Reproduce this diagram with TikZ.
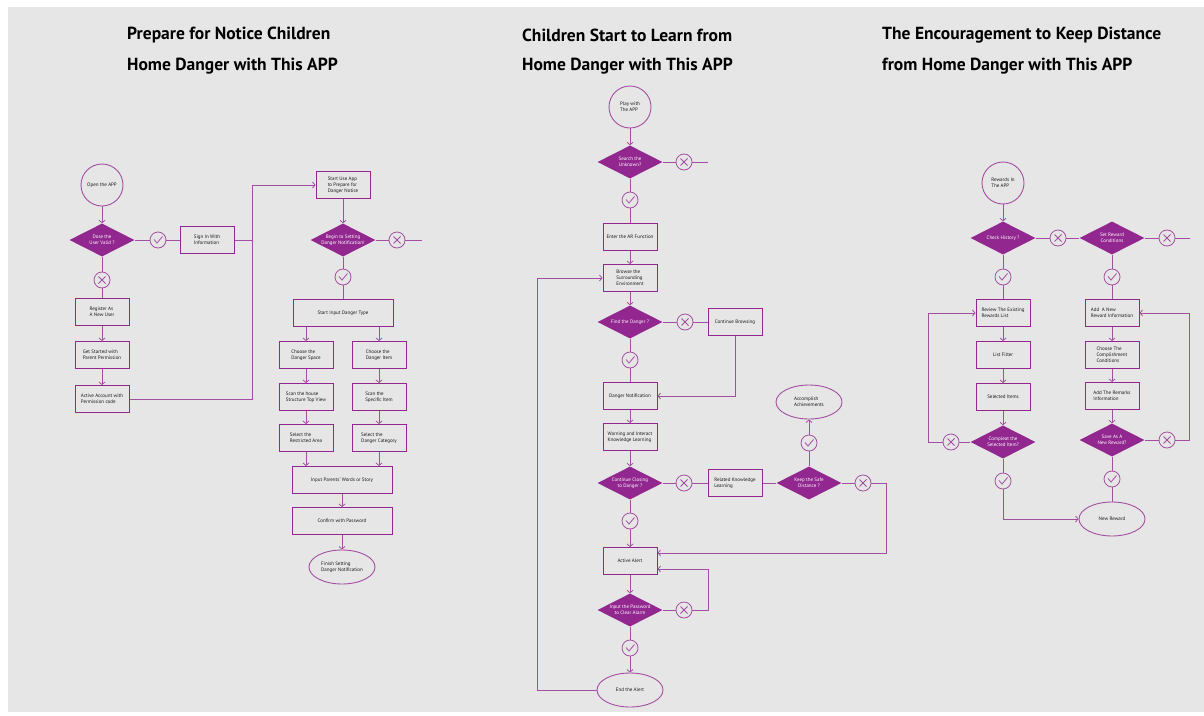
\documentclass[tikz,border=0pt]{standalone}
\usepackage{fontspec}
\setmainfont{PT Sans}
\usetikzlibrary{positioning,arrows.meta,shapes.geometric}
\definecolor{plum}{HTML}{92278F}
\definecolor{plumln}{HTML}{A34FA1}
\definecolor{panel}{HTML}{E6E6E6}
\definecolor{ink}{HTML}{1A1718}
\newcommand\flowfont{\fontsize{5}{6}\selectfont}
\tikzset{
  flow/.style={>={Straight Barb[length=2.5pt,width=6pt]},on grid,node distance=40pt},
  link/.style={draw=plumln,line width=0.8pt},
  box/.style={rectangle,draw=plum,line width=1pt,minimum width=54pt,minimum height=27pt,
    inner sep=2pt,font=\flowfont,text=ink,align=left},
  ask/.style={diamond,aspect=2,fill=plum,minimum width=65pt,minimum height=33pt,
    inner xsep=-5pt,inner ysep=0pt,font=\flowfont,text=white,align=center},
  hub/.style={circle,draw=plumln,line width=0.9pt,minimum size=42pt,inner sep=0pt,
    font=\flowfont,text=ink,align=left},
  goal/.style={ellipse,draw=plumln,line width=0.9pt,minimum width=66pt,minimum height=34pt,
    inner sep=0pt,font=\flowfont,text=ink,align=left},
  okc/.style={circle,draw=plumln,line width=0.8pt,minimum size=16pt,inner sep=0pt,
    path picture={\draw[plumln,line width=0.8pt]
      ([shift={(-4pt,0.5pt)}]path picture bounding box.center) -- ++(3pt,-3.5pt) -- ++(5.5pt,6.5pt);}},
  xc/.style={circle,draw=plumln,line width=0.8pt,minimum size=16pt,inner sep=0pt,
    path picture={\draw[plumln,line width=0.8pt]
      ([shift={(-3.5pt,-3.5pt)}]path picture bounding box.center) -- ++(7pt,7pt)
      ([shift={(-3.5pt,3.5pt)}]path picture bounding box.center) -- ++(7pt,-7pt);}},
  title/.style={anchor=west,inner sep=0pt,font=\bfseries\fontsize{17.5}{20}\selectfont,text=black},
}

\begin{document}
\begin{tikzpicture}[flow,x=1pt,y=-1pt]
  \fill[white] (0,0) rectangle (1204,715);
  \fill[panel] (8,7) rectangle (1204,712);
  \useasboundingbox (0,0) rectangle (1204,715);

  \node[title] (t1a) at (127,35) {Prepare for Notice Children};
  \node[title] (t1b) at (127,66) {Home Danger with This APP};
  \node[title] (t2a) at (522,35) {Children Start to Learn from};
  \node[title] (t2b) at (522,66) {Home Danger with This APP};
  \node[title] (t3a) at (882,35) {The Encouragement to Keep Distance};
  \node[title] (t3b) at (882,66) {from Home Danger with This APP};

  \node[hub] (open) at (102,185) {Open the APP};
  \node[ask] (valid) [below=55pt of open] {Dose the\\User Valid ?};
  \node[okc] (vok) [right=56pt of valid] {};
  \node[box] (signin) [right=49pt of vok] {Sign In With\\Information};
  \node[xc] (vno) [below=40pt of valid] {};
  \node[box] (reg) [below=32pt of vno] {Register As\\A New User};
  \node[box] (getst) [below=43pt of reg] {Get Started with\\Parent Permission};
  \node[box] (active) [below=44pt of getst] {Active Account with\\Permission code};
  \coordinate (c1) at (252,399);

  \node[box] (startuse) at (343,185) {Start Use App\\to Prepare for\\Danger Notice};
  \node[ask] (begin) [below=55pt of startuse] {Begin to Setting\\Danger Notification!};
  \node[xc] (bno) [right=54pt of begin] {};
  \coordinate[right=25pt of bno] (bout);
  \node[okc] (bok) [below=37pt of begin] {};
  \node[box,minimum width=100pt] (dtype) [below=36pt of bok] {Start Input Danger Type};
  \node[box] (space) at (306,355) {Choose the\\Danger Space};
  \node[box] (item) [right=73pt of space] {Choose the\\Danger Item};
  \node[box] (house) [below=42pt of space] {Scan the house\\Structure Top View};
  \node[box] (spec) [below=42pt of item] {Scan the\\Specific Item};
  \node[box] (area) [below=41pt of house] {Select the\\Restricted Area};
  \node[box] (categ) [below=41pt of spec] {Select the\\Danger Category};
  \node[box,minimum width=100pt] (words) at (342,480) {Input Parents' Words or Story};
  \node[box,minimum width=100pt] (confirm) [below=41pt of words] {Confirm with Password};
  \node[goal] (finish) [below=46pt of confirm] {Finish Setting\\Danger Notification};

  \path[link] (open) edge[->] (valid)
    (valid) edge (vok) (vok) edge (signin)
    (valid) edge (vno) (vno) edge (reg)
    (reg) edge[->] (getst) (getst) edge[->] (active);
  \draw[link] (signin) -- (signin -| c1);
  \draw[link,->] (active) -- (c1) -- (c1 |- startuse) -- (startuse);
  \path[link] (startuse) edge[->] (begin)
    (begin) edge (bno) (bno) edge (bout)
    (begin) edge (bok) (bok) edge (dtype)
    (space |- dtype.south) edge[->] (space) (item |- dtype.south) edge[->] (item)
    (space) edge[->] (house) (item) edge[->] (spec)
    (house) edge[->] (area) (spec) edge[->] (categ)
    (area) edge[->] (area |- words.north) (categ) edge[->] (categ |- words.north)
    (words) edge[->] (confirm) (confirm) edge[->] (finish);

  \node[hub] (play) at (630,107) {Play with\\The APP};
  \node[ask] (search) [below=55pt of play] {Search the\\Unknown?};
  \node[xc] (sno) [right=54pt of search] {};
  \coordinate[right=24pt of sno] (sout);
  \node[okc] (sok) [below=38pt of search] {};
  \node[box] (ar) [below=37pt of sok] {Enter the AR Function};
  \node[box] (browse) [below=41pt of ar] {Browse the\\Surrounding\\Environment};
  \node[ask] (find) [below=44pt of browse] {Find the Danger ?};
  \node[xc] (fno) [right=55pt of find] {};
  \node[box] (contb) [right=50pt of fno] {Continue Browsing};
  \node[okc] (fok) [below=38pt of find] {};
  \node[box] (notif) [below=36pt of fok] {Danger Notification};
  \node[box] (warn) [below=41pt of notif] {Warning and Interact\\Knowledge Learning};
  \node[ask] (closing) [below=46pt of warn] {Continue Closing\\to Danger ?};
  \node[xc] (cno) [right=54pt of closing] {};
  \node[box] (related) [right=51pt of cno] {Related Knowledge\\Learning};
  \node[ask] (keep) [right=74pt of related] {Keep the Safe\\Distance ?};
  \node[xc] (kno) [right=54pt of keep] {};
  \node[okc] (kok) [above=40pt of keep] {};
  \node[goal] (achieve) [above=41pt of kok] {Accomplish\\Achievements};
  \node[okc] (clok) [below=38pt of closing] {};
  \node[box] (alert) [below=40pt of clok] {Active Alert};
  \node[ask] (pass) [below=49pt of alert] {Input the Password\\to Clear Alarm};
  \node[xc] (pno) [right=54pt of pass] {};
  \node[okc] (pok) [below=38pt of pass] {};
  \node[goal] (endal) [below=42pt of pok] {End the Alert};
  \coordinate (c2) at (537,690);
  \coordinate (c3) at (886,553);
  \coordinate (c4) at (708,569);

  \path[link] (play) edge[->] (search)
    (search) edge (sno) (sno) edge (sout)
    (search) edge (sok) (sok) edge (ar)
    (ar) edge[->] (browse) (browse) edge[->] (find)
    (find) edge (fno) (fno) edge (contb)
    (find) edge (fok) (fok) edge (notif)
    (notif) edge[->] (warn) (warn) edge[->] (closing)
    (closing) edge (cno) (cno) edge (related) (related) edge (keep)
    (keep) edge (kno) (keep) edge (kok) (kok) edge[->] (achieve)
    (closing) edge (clok) (clok) edge[->] (alert)
    (alert) edge[->] (pass) (pass) edge (pno)
    (pass) edge (pok) (pok) edge[->] (endal);
  \draw[link,->] (contb) -- (contb |- notif) -- (notif);
  \draw[link,->] (kno) -- (kno -| c3) -- (c3) -- (c3 -| alert.east);
  \draw[link,->] (pno) -- (pno -| c4) -- (c4) -- (c4 -| alert.east);
  \draw[link,->] (endal) -- (c2) -- (c2 |- browse) -- (browse);

  \node[hub] (rw) at (1003,183) {Rewards In\\The APP};
  \node[ask] (hist) [below=55pt of rw] {Check History ?};
  \node[xc] (hno) [right=55pt of hist] {};
  \node[ask] (setrw) [right=54pt of hno] {Set Reward\\Conditions};
  \node[xc] (sno2) [right=55pt of setrw] {};
  \coordinate[right=23pt of sno2] (s2out);
  \node[okc] (hok) [below=39pt of hist] {};
  \node[box] (review) [below=36pt of hok] {Review The Existing\\Rewards List};
  \node[box] (filter) [below=42pt of review] {List Filter};
  \node[box] (selitem) [below=42pt of filter] {Selected Items};
  \node[ask] (compl) [below=45pt of selitem] {Compleat the\\Selected Item?};
  \node[xc] (cpno) [left=52pt of compl] {};
  \node[okc] (cpok) [below=39pt of compl] {};
  \node[okc] (sok2) [below=39pt of setrw] {};
  \node[box] (addnew) [below=36pt of sok2] {Add\ \ A New\\Reward Information};
  \node[box] (choose) [below=42pt of addnew] {Choose The\\Complishment\\Conditions};
  \node[box] (remark) [below=41pt of choose] {Add The Remarks\\Information};
  \node[ask] (save) [below=44pt of remark] {Save As A\\New Reward?};
  \node[xc] (svno) [right=55pt of save] {};
  \node[okc] (svok) [below=39pt of save] {};
  \node[goal] (newrw) [below=40pt of svok] {New Reward};
  \coordinate (c5) at (928,442);
  \coordinate (c6) at (1189,440);

  \path[link] (rw) edge[->] (hist)
    (hist) edge (hno) (hno) edge (setrw) (setrw) edge (sno2) (sno2) edge (s2out)
    (hist) edge (hok) (hok) edge (review)
    (review) edge[->] (filter) (filter) edge[->] (selitem) (selitem) edge[->] (compl)
    (compl) edge (cpno) (compl) edge (cpok)
    (setrw) edge (sok2) (sok2) edge (addnew)
    (addnew) edge[->] (choose) (choose) edge[->] (remark) (remark) edge[->] (save)
    (save) edge (svno) (save) edge (svok) (svok) edge (newrw);
  \draw[link,->] (cpno) -- (c5) -- (c5 |- review) -- (review);
  \draw[link,->] (svno) -- (c6) -- (c6 |- addnew) -- (addnew);
  \draw[link,->] (cpok) -- (cpok |- newrw) -- (newrw);
\end{tikzpicture}
\end{document}
